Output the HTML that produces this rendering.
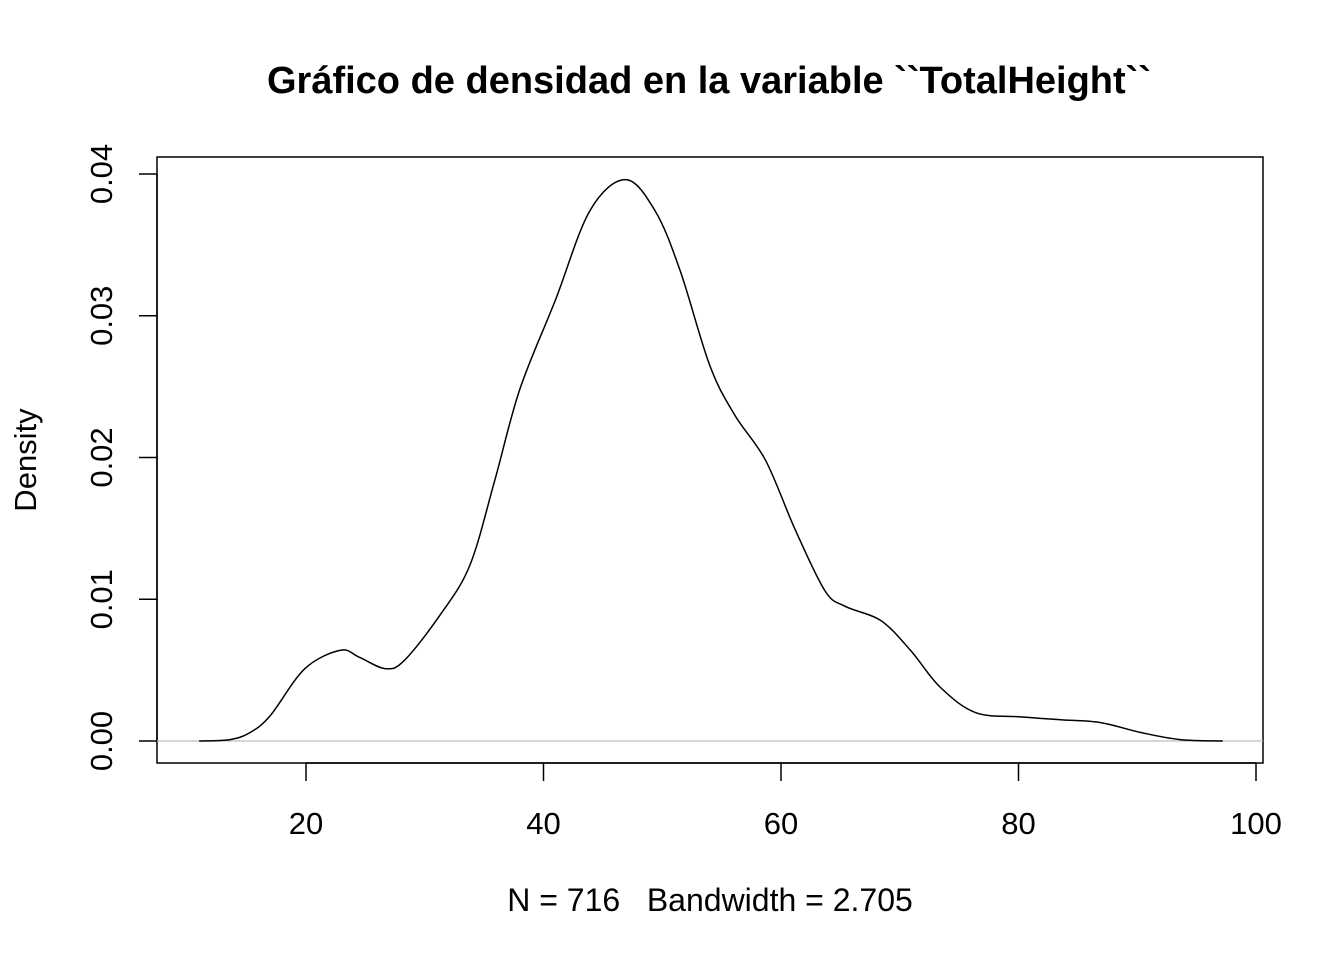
<!DOCTYPE html>
<html><head><meta charset="utf-8"><style>
html,body{margin:0;padding:0;background:#fff;}
svg{display:block;font-family:"Liberation Sans",Arial,sans-serif;}
</style></head><body>
<svg id="chart" width="1344" height="960" viewBox="0 0 1344 960">
<text x="709" y="93" text-anchor="middle" font-size="38" font-weight="bold">Gráfico de densidad en la variable ``TotalHeight``</text>
<rect x="157" y="157" width="1106" height="606" fill="none" stroke="#000" stroke-width="1.5"/>
<g id="xaxis"></g>
<g id="yaxis"></g>
<line id="zero" stroke="#bebebe" stroke-width="1.2"/>
<path id="curve" fill="none" stroke="#000" stroke-width="1.5"/>
<text x="710" y="911" text-anchor="middle" font-size="32" style="white-space:pre">N = 716   Bandwidth = 2.705</text>
<text transform="translate(36,460) rotate(-90)" text-anchor="middle" font-size="31">Density</text>
</svg>
<script>
const xs=[11,13.6,15.3,17,19.9,22.9,24.5,26.7,28.3,31.3,33.8,35.9,38,41,43.9,46.9,49.4,51.5,54,56.1,58.7,61.2,63.7,65.4,68.4,70.9,73.4,76.4,80.2,83.5,86.9,90.3,93.6,97.2];
const ys=[0,0.0001,0.0006,0.0018,0.0051,0.0064,0.0059,0.0051,0.0057,0.0089,0.0124,0.0184,0.0248,0.0311,0.0374,0.0396,0.0374,0.0332,0.0265,0.0230,0.0198,0.0149,0.0106,0.0095,0.0085,0.0064,0.0038,0.0020,0.0017,0.0015,0.0013,0.0006,0.0001,0];
const xTicks=[20,40,60,80,100];
const yTicks=[0,0.01,0.02,0.03,0.04];
const yTickLabels=["0.00","0.01","0.02","0.03","0.04"];
const sx=v=>306+(v-20)*(1256-306)/80;
const sy=v=>741-v*(741-174)/0.04;
const NS="http://www.w3.org/2000/svg";
const xa=document.getElementById('xaxis'), ya=document.getElementById('yaxis');
function mk(tag,attrs,parent){const e=document.createElementNS(NS,tag);for(const k in attrs)e.setAttribute(k,attrs[k]);parent.appendChild(e);return e;}
mk('line',{x1:sx(20),x2:sx(100),y1:763,y2:763,stroke:'#000','stroke-width':1.5},xa);
xTicks.forEach(t=>{
  const l=mk('line',{x1:sx(t),x2:sx(t),y1:763,y2:781,stroke:'#000','stroke-width':1.5},xa);
  
  
  const tx=mk('text',{x:sx(t),y:834,'text-anchor':'middle','font-size':31},xa);
  tx.textContent=t;
  
  
});
mk('line',{x1:157,x2:157,y1:sy(0),y2:sy(0.04),stroke:'#000','stroke-width':1.5},ya);
yTicks.forEach((t,i)=>{
  const l=mk('line',{x1:139,x2:157,y1:sy(t),y2:sy(t),stroke:'#000','stroke-width':1.5},ya);
  
  
  const tx=mk('text',{transform:`translate(112,${sy(t)}) rotate(-90)`,'text-anchor':'middle','font-size':31},ya);
  tx.textContent=yTickLabels[i];
  
  
});
const z=document.getElementById('zero');
z.setAttribute('x1',157);z.setAttribute('x2',1263);z.setAttribute('y1',sy(0));z.setAttribute('y2',sy(0));
const P=xs.map((x,i)=>[sx(x),sy(ys[i])]);
let d=`M${P[0][0]},${P[0][1]}`;
for(let i=0;i<P.length-1;i++){
  const p0=P[i-1]||P[i],p1=P[i],p2=P[i+1],p3=P[i+2]||P[i+1];
  const c1=[p1[0]+(p2[0]-p0[0])/6,p1[1]+(p2[1]-p0[1])/6];
  const c2=[p2[0]-(p3[0]-p1[0])/6,p2[1]-(p3[1]-p1[1])/6];
  d+=` C${c1[0]},${c1[1]} ${c2[0]},${c2[1]} ${p2[0]},${p2[1]}`;
}
document.getElementById('curve').setAttribute('d',d);
</script>
</body></html>
